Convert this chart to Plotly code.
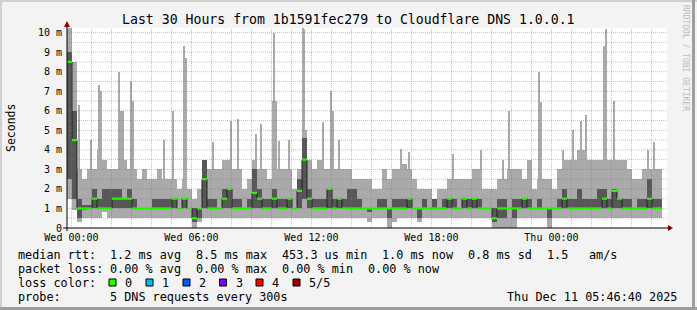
import plotly.graph_objects as go
import pandas as pd

# ---------------- data ----------------
start = pd.Timestamp("2025-12-09 23:46:40")
end = pd.Timestamp("2025-12-11 05:46:40")
step_min = 15          # width of one smoke bin
probe_min = 5          # probe interval (thin spikes)

# per 15-min bin: min, 2nd, median, 4th, max ping (ms)
rtt_min = [1.5, 0.9, 0.3, 0.5, 0.5, 0.5, 0.5, 0.8, 0.5, 0.5,
           0.5, 0.5, 0.5, 0.5, 0.5, 0.5, 0.5, 0.5, 0.5, 0.5,
           0.5, 0.5, 0.5, 0.5, 0.5, 0.0, 0.3, 0.5, 0.5, 0.5,
           0.5, 0.5, 0.5, 0.5, 0.5, 0.5, 0.5, 0.5, 0.5, 0.5,
           0.5, 0.5, 0.5, 0.5, 0.5, 0.5, 0.5, 0.5, 0.5, 0.5,
           0.5, 0.5, 0.5, 0.5, 0.5, 0.5, 0.5, 0.5, 0.5, 0.5,
           0.3, 0.5, 0.5, 0.5, 0.0, 0.3, 0.5, 0.5, 0.5, 0.5,
           0.3, 0.5, 0.5, 0.5, 0.5, 0.5, 0.5, 0.5, 0.5, 0.5,
           0.5, 0.5, 0.5, 0.5, 0.5, 0.0, 0.0, 0.0, 0.0, 0.0,
           0.5, 0.5, 0.5, 0.5, 0.5, 0.5, 0.0, 0.5, 0.5, 0.5,
           0.5, 0.5, 0.5, 0.5, 0.5, 0.5, 0.5, 0.5, 0.5, 0.5,
           0.5, 0.5, 0.5, 0.5, 0.5, 0.5, 0.5, 0.5, 0.5, None]
rtt_q1 = [2.5, 1.5, 0.5, 0.9, 1.0, 1.0, 1.0, 1.0, 1.0, 1.0,
          1.0, 1.0, 1.0, 1.0, 1.0, 1.0, 1.0, 1.0, 1.0, 1.0,
          1.0, 1.0, 1.0, 1.0, 1.0, 0.3, 0.5, 1.0, 1.0, 1.0,
          1.0, 1.0, 1.0, 1.0, 1.0, 1.0, 1.0, 1.0, 1.0, 1.0,
          1.0, 1.0, 1.0, 1.0, 1.0, 1.0, 1.0, 1.5, 1.0, 1.0,
          1.0, 1.0, 1.0, 1.0, 1.0, 1.0, 1.0, 1.0, 1.0, 1.0,
          0.8, 1.0, 1.0, 1.0, 0.5, 1.0, 1.0, 1.0, 1.0, 1.0,
          0.5, 1.0, 1.0, 1.0, 1.0, 1.0, 1.0, 1.0, 1.0, 1.0,
          1.0, 1.0, 1.0, 1.0, 1.0, 0.3, 0.5, 0.5, 1.0, 0.5,
          1.0, 1.0, 1.0, 1.0, 1.0, 1.0, 0.5, 1.0, 1.0, 1.0,
          1.0, 1.0, 1.0, 1.0, 1.0, 1.0, 1.0, 1.0, 1.0, 1.0,
          1.0, 1.0, 1.0, 1.0, 1.0, 1.0, 1.0, 1.0, 1.0, None]
rtt_med = [8.5, 4.5, 1.0, 1.0, 1.0, 1.5, 1.0, 1.0, 1.0, 1.5,
           1.5, 1.5, 1.5, 1.0, 1.0, 1.0, 1.0, 1.0, 1.0, 1.0,
           1.0, 1.5, 1.0, 1.5, 1.0, 0.5, 1.0, 2.5, 1.0, 1.0,
           1.0, 1.5, 2.0, 1.0, 1.0, 1.0, 1.0, 1.8, 1.5, 1.0,
           1.0, 1.5, 1.0, 1.0, 1.5, 1.0, 1.9, 3.5, 1.5, 1.0,
           1.0, 1.0, 2.0, 1.0, 1.5, 1.0, 1.0, 1.0, 1.0, 1.0,
           1.0, 1.0, 1.0, 1.0, 1.0, 1.0, 1.0, 1.0, 1.5, 1.0,
           1.0, 1.0, 1.0, 1.0, 1.0, 1.0, 1.5, 1.0, 1.0, 1.5,
           1.0, 1.5, 1.0, 1.0, 1.0, 0.5, 1.0, 1.0, 1.0, 1.0,
           1.0, 1.5, 1.0, 1.0, 1.0, 1.0, 1.0, 1.0, 1.0, 1.5,
           1.0, 1.0, 1.0, 1.0, 1.0, 1.0, 1.0, 1.5, 1.0, 1.9,
           1.5, 1.0, 1.0, 1.0, 1.0, 1.0, 1.5, 1.0, 1.0, None]
rtt_q3 = [9.0, 6.0, 1.5, 1.2, 1.2, 2.0, 1.5, 2.0, 2.0, 2.0,
          2.0, 1.5, 2.0, 1.5, 1.0, 1.0, 1.0, 1.5, 1.5, 1.5,
          1.5, 1.5, 1.0, 1.5, 1.0, 1.0, 1.0, 3.5, 1.5, 1.5,
          1.0, 2.0, 2.0, 1.5, 1.5, 1.0, 1.5, 3.0, 2.0, 1.5,
          1.5, 2.0, 1.5, 1.5, 1.5, 1.0, 2.5, 4.6, 2.0, 1.5,
          1.5, 1.5, 2.0, 1.5, 1.5, 1.5, 2.0, 2.0, 1.5, 1.0,
          1.0, 1.0, 1.5, 1.5, 1.0, 1.5, 1.5, 1.5, 1.5, 1.0,
          1.0, 1.5, 1.0, 1.5, 1.0, 1.5, 1.5, 1.5, 1.0, 1.5,
          1.5, 1.5, 1.5, 1.0, 1.0, 1.0, 1.5, 1.5, 1.0, 1.5,
          1.5, 1.5, 1.5, 1.0, 1.5, 1.0, 1.0, 1.0, 1.5, 2.0,
          1.5, 1.5, 2.0, 1.5, 1.5, 1.5, 2.0, 2.0, 1.5, 2.0,
          1.5, 1.5, 1.5, 1.0, 1.5, 1.5, 2.5, 1.5, 1.5, None]
rtt_max = [10.3, 8.5, 3.0, 2.5, 3.0, 3.0, 4.0, 3.5, 3.0, 3.0,
           3.0, 3.5, 3.0, 3.0, 2.5, 3.0, 2.5, 2.5, 3.0, 2.5,
           2.5, 2.5, 2.0, 2.5, 2.0, 1.5, 2.0, 3.5, 3.0, 3.0,
           3.0, 3.5, 3.5, 3.0, 3.0, 2.0, 2.5, 3.5, 3.0, 3.0,
           2.5, 3.0, 3.0, 3.0, 3.0, 2.0, 3.0, 5.0, 3.5, 3.0,
           3.5, 3.0, 3.0, 3.0, 3.0, 3.0, 3.0, 2.5, 2.5, 2.5,
           2.5, 2.0, 2.0, 3.0, 2.5, 3.0, 3.0, 3.3, 3.0, 2.5,
           2.0, 2.0, 2.0, 1.5, 2.0, 2.0, 2.5, 2.5, 2.5, 2.5,
           2.5, 3.0, 3.0, 2.0, 2.0, 2.0, 2.5, 2.5, 3.0, 3.0,
           3.0, 2.5, 3.5, 2.0, 2.5, 2.5, 2.5, 2.0, 3.0, 3.5,
           3.5, 3.5, 4.0, 4.0, 3.5, 3.5, 3.5, 3.5, 3.5, 3.5,
           3.5, 3.5, 3.0, 2.5, 2.5, 3.0, 3.0, 3.0, 3.0, None]

# isolated single-probe spikes of the max ping: probe index (5-min steps) and value (ms)
spike_probe = [7, 14, 19, 20, 31, 32, 33, 38, 39, 58, 63, 70, 71, 87, 98, 102,
               113, 116, 123, 124, 125, 127, 133, 141, 142, 153, 158, 159, 163,
               200, 205, 231, 248, 261, 265, 283, 284, 297, 303, 308, 311,
               322, 323, 328, 348, 352]
spike_rtt = [6.3, 4.5, 7.3, 7.0, 8.0, 6.0, 6.0, 7.5, 6.5, 4.5, 6.0, 9.3, 8.7, 4.4, 5.5, 5.6,
             4.8, 5.3, 6.5, 10.0, 6.5, 4.45, 4.5, 10.3, 10.2, 5.4, 7.0, 6.0, 4.5,
             4.05, 3.9, 3.8, 4.0, 3.5, 6.0, 8.0, 6.45, 4.0, 5.0, 5.5, 5.8,
             9.3, 10.2, 6.5, 4.0, 4.4]

y_tick_vals = [0, 1, 2, 3, 4, 5, 6, 7, 8, 9, 10]
y_tick_text = ["0", "1 m", "2 m", "3 m", "4 m", "5 m", "6 m", "7 m", "8 m", "9 m", "10 m"]
x_tick_vals = ["2025-12-10 00:00", "2025-12-10 06:00", "2025-12-10 12:00",
               "2025-12-10 18:00", "2025-12-11 00:00"]
x_tick_text = ["Wed 00:00", "Wed 06:00", "Wed 12:00", "Wed 18:00", "Thu 00:00"]

title_text = "Last 30 Hours from 1b1591fec279 to Cloudflare DNS 1.0.0.1"
legend_rtt = ["median rtt:", "1.2 ms avg", "8.5 ms max", "453.3 us min",
              "1.0 ms now", "0.8 ms sd", "1.5", "am/s"]
legend_loss = ["packet loss:", "0.00 % avg", "0.00 % max", "0.00 % min", "0.00 % now"]
loss_labels = ["0", "1", "2", "3", "4", "5/5"]
loss_colors = ["#26ff00", "#00b8ff", "#0059ff", "#7e00ff", "#ff0000", "#a10000"]
probe_text = ["probe:", "5 DNS requests every 300s"]
date_text = "Thu Dec 11 05:46:40 2025"

# ---------------- layout constants ----------------
W, H = 697, 310
ML, MR, MT, MB = 67, 30, 28, 82
PW, PH = W - ML - MR, H - MT - MB
PX_PER_MS = 19.54
FONT = "DejaVu Sans Mono"
LIGHT = "#AAAAAA"
DARK = "#575757"
LFS = 11.8


def px(x):
    return (x - ML) / PW


def py(y):
    return (H - MB - y) / PH


n = len(rtt_med)
step = pd.Timedelta(minutes=step_min)
pstep = pd.Timedelta(minutes=probe_min)
starts = [start + i * step for i in range(n)]
centers = [s + step / 2 for s in starts]
width_ms = step_min * 60 * 1000
spike_x = [start + k * pstep + pstep / 2 for k in spike_probe]
spike_base = [1.0] * len(spike_rtt)


def diff(a, b):
    return [None if (x is None or y is None) else x - y for x, y in zip(a, b)]


fig = go.Figure()
fig.add_trace(go.Bar(x=centers, y=diff(rtt_max, rtt_min), base=rtt_min, width=width_ms,
                     marker=dict(color=LIGHT, line=dict(width=0)), hoverinfo="skip"))
fig.add_trace(go.Bar(x=spike_x, y=diff(spike_rtt, spike_base), base=spike_base,
                     width=probe_min * 60 * 1000,
                     marker=dict(color=LIGHT, line=dict(width=0)), hoverinfo="skip"))
fig.add_trace(go.Bar(x=centers, y=diff(rtt_q3, rtt_q1), base=rtt_q1, width=width_ms,
                     marker=dict(color=DARK, line=dict(width=0)), hoverinfo="skip"))

# median: thin dark step line plus loss-coloured bands
valid = [i for i in range(n) if rtt_med[i] is not None]
sx, sy = [], []
for i in valid:
    sx += [starts[i], starts[i] + step]
    sy += [rtt_med[i], rtt_med[i]]
fig.add_trace(go.Scatter(x=sx, y=sy, mode="lines", line=dict(color="#202020", width=1),
                         hoverinfo="skip"))
gx, gy = [], []
for i in valid:
    gx += [starts[i], starts[i] + step, None]
    gy += [rtt_med[i], rtt_med[i], None]
fig.add_trace(go.Scatter(x=gx, y=gy, mode="lines", line=dict(color=loss_colors[0], width=2.2),
                         hoverinfo="skip", connectgaps=False))

shapes = []
# grid (drawn over the data, like rrdtool)
hours = pd.date_range("2025-12-10 00:00", "2025-12-11 05:00", freq="1h")
for h in hours:
    major = (h.hour % 6 == 0)
    shapes.append(dict(type="line", xref="x", yref="paper", x0=h, x1=h, y0=0, y1=1.0,
                       line=dict(color="rgba(255,60,60,0.45)" if major else "rgba(120,120,120,0.45)",
                                 width=1, dash="1px,1px"), layer="above"))
for k in range(1, 21):
    v = k * 0.5
    major = (k % 2 == 0)
    shapes.append(dict(type="line", xref="paper", yref="y", x0=0, x1=1, y0=v, y1=v,
                       line=dict(color="rgba(255,60,60,0.45)" if major else "rgba(120,120,120,0.45)",
                                 width=1, dash="1px,1px"), layer="above"))

# axes
shapes.append(dict(type="line", xref="paper", yref="paper", x0=px(63), x1=px(670),
                   y0=py(228), y1=py(228), line=dict(color="#000000", width=1), layer="above"))
shapes.append(dict(type="line", xref="paper", yref="paper", x0=px(67), x1=px(67),
                   y0=py(231), y1=py(25), line=dict(color="#000000", width=1), layer="above"))
shapes.append(dict(type="path", xref="paper", yref="paper",
                   path=f"M {px(668)} {py(225)} L {px(673)} {py(228)} L {px(668)} {py(231)} Z",
                   fillcolor="#8B0000", line=dict(width=0), layer="above"))
shapes.append(dict(type="path", xref="paper", yref="paper",
                   path=f"M {px(64)} {py(27)} L {px(67)} {py(21)} L {px(70)} {py(27)} Z",
                   fillcolor="#8B0000", line=dict(width=0), layer="above"))

# frame of the image
shapes += [
    dict(type="rect", xref="paper", yref="paper", x0=px(0), x1=px(W), y0=py(0), y1=py(2),
         fillcolor="#D0D0D0", line=dict(width=0), layer="below"),
    dict(type="rect", xref="paper", yref="paper", x0=px(0), x1=px(2), y0=py(0), y1=py(H),
         fillcolor="#D0D0D0", line=dict(width=0), layer="below"),
    dict(type="rect", xref="paper", yref="paper", x0=px(0), x1=px(W), y0=py(307), y1=py(H),
         fillcolor="#9E9E9E", line=dict(width=0), layer="below"),
    dict(type="rect", xref="paper", yref="paper", x0=px(692), x1=px(695), y0=py(0), y1=py(H),
         fillcolor="#9E9E9E", line=dict(width=0), layer="below"),
]

annotations = []


def text(s, x, y, size=LFS, anchor="left", color="#000000", angle=0):
    annotations.append(dict(text=s, x=px(x), y=py(y), xref="paper", yref="paper",
                            xanchor=anchor, yanchor="middle", showarrow=False, textangle=angle,
                            font=dict(family=FONT, size=size, color=color)))


text(title_text, 348, 19, size=13.2, anchor="center")
text("Seconds", 11, 128, size=11.5, anchor="center", angle=-90)
text("RRDTOOL / TOBI OETIKER", 686, 58, size=8, anchor="center", color="#BBBBBB", angle=90)

rtt_x = [16, 108, 194, 280, 380, 466, 545, 587]
for s, x in zip(legend_rtt, rtt_x):
    text(s, x, 255)
loss_x = [16, 108, 194, 280, 366]
for s, x in zip(legend_loss, loss_x):
    text(s, x, 268.5)
text("loss color:", 16, 282.5)
box_x = [109, 146, 183, 219.5, 256, 293]
for lab, col, bx in zip(loss_labels, loss_colors, box_x):
    shapes.append(dict(type="rect", xref="paper", yref="paper", x0=px(bx), x1=px(bx + 7),
                       y0=py(279), y1=py(286), fillcolor=col,
                       line=dict(color="#000000", width=1), layer="above"))
    text(lab, bx + 14, 282.5)
text(probe_text[0], 16, 296.5)
text(probe_text[1], 108, 296.5)
text(date_text, 679, 296.5, anchor="right")

fig.update_layout(
    width=W, height=H,
    margin=dict(l=ML, r=MR, t=MT, b=MB, pad=0),
    paper_bgcolor="#F3F3F3", plot_bgcolor="#FFFFFF",
    showlegend=False, barmode="overlay", bargap=0,
    shapes=shapes, annotations=annotations,
    xaxis=dict(type="date", range=[start, end], showgrid=False, zeroline=False,
               tickvals=x_tick_vals, ticktext=x_tick_text, ticks="", showline=False,
               tickfont=dict(family=FONT, size=10, color="#000000"), ticklabelstandoff=2,
               fixedrange=True),
    yaxis=dict(range=[0, PH / PX_PER_MS], showgrid=False, zeroline=False,
               tickvals=y_tick_vals, ticktext=y_tick_text, ticks="", showline=False,
               tickfont=dict(family=FONT, size=10, color="#000000"), ticklabelstandoff=4,
               fixedrange=True),
)

fig.write_html("out.html")
